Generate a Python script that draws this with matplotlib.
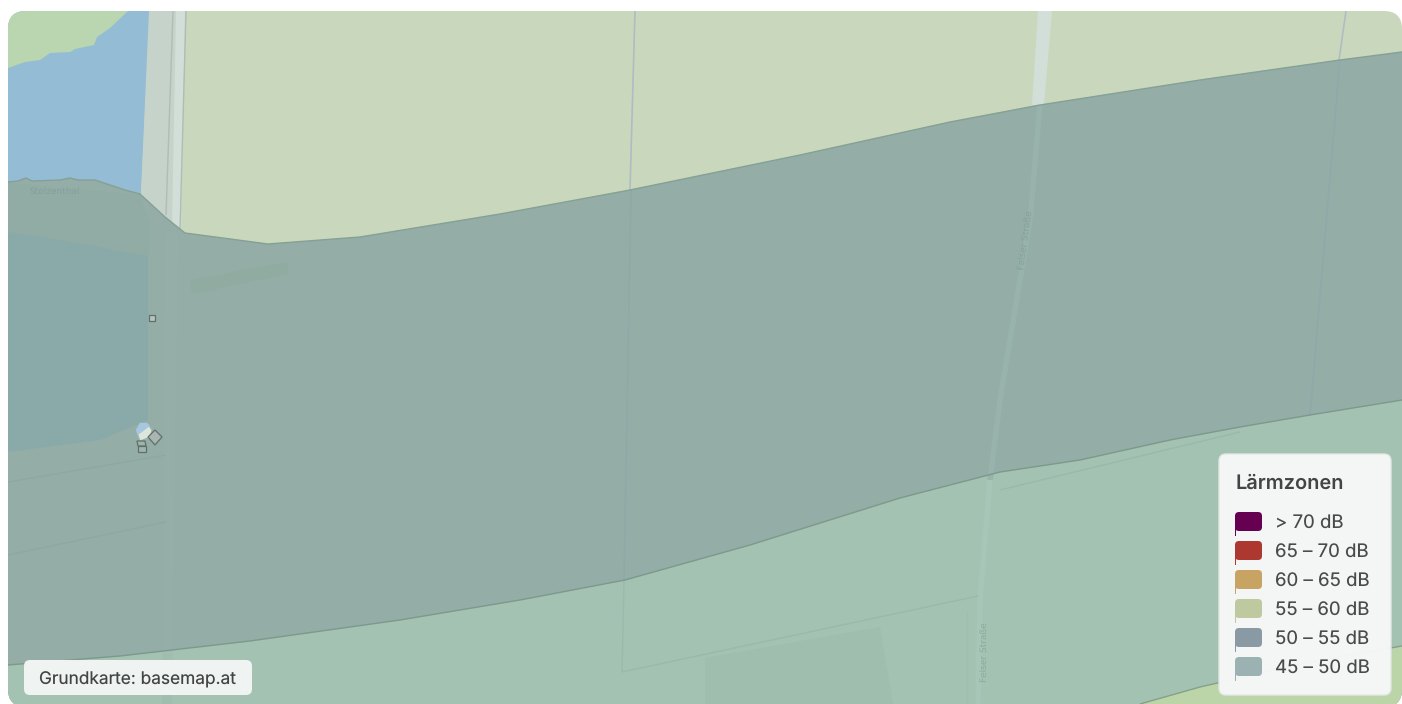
#!/usr/bin/env python
# noise zone map with legend, drawn in image pixel coordinates
import matplotlib
matplotlib.use('Agg')
import matplotlib.pyplot as plt
from matplotlib.patches import Polygon, FancyBboxPatch, Rectangle

plt.rcParams['font.family'] = ['Inter', 'DejaVu Sans']
plt.rcParams['text.hinting'] = 'none'
plt.rcParams['text.hinting_factor'] = 1

legend_title = 'Lärmzonen'
legend_labels = ['> 70 dB', '65 – 70 dB', '60 – 65 dB', '55 – 60 dB', '50 – 55 dB', '45 – 50 dB']
legend_colors = ['#660050', '#ad382f', '#c8a464', '#bfc9a0', '#8a9aa4', '#9bb1b2']
credit = 'Grundkarte: basemap.at'

# zone boundaries
band_top_x = [8, 18, 26, 32, 60, 70, 78, 95, 125, 140, 165, 185, 268, 360, 500, 630, 800, 950, 1040, 1200, 1340, 1402]
band_top_y = [182, 181, 178, 181, 180, 178, 180, 180, 190, 194, 217, 233, 244, 237, 214, 190, 155, 122, 105, 80, 60, 52]
band_bot_x = [8, 120, 250, 400, 520, 625, 750, 900, 1000, 1080, 1170, 1240, 1310, 1402]
band_bot_y = [665, 656, 641, 620, 600, 580, 545, 498, 472, 460, 440, 427, 415, 400]
south_x = [1140, 1200, 1300, 1402]
south_y = [704, 687, 664, 646]

# base map shapes
meadow_x = [8, 128, 110, 97, 94, 75, 70, 50, 40, 25, 8]
meadow_y = [11, 11, 28, 37, 45, 49, 52, 53, 60, 62, 68]
water_x = [8, 150, 141, 8]
water_y = [11, 11, 194, 182]
water_under_x = [8, 60, 148, 148, 100, 8]
water_under_y = [232, 240, 256, 420, 440, 452]
road_x = [149, 185, 181, 141]
road_y = [11, 11, 233, 194]
felser_x = [1040, 1030, 1015, 1000, 990, 980, 978]
felser_y = [105, 220, 310, 400, 480, 600, 704]

fig = plt.figure(figsize=(14.02, 7.04), dpi=100)
ax = fig.add_axes([0, 0, 1, 1])
ax.set_xlim(0, 1402)
ax.set_ylim(704, 0)
ax.axis('off')

card = FancyBboxPatch((8, 11), 1394, 696, boxstyle='round,pad=0,rounding_size=18',
                      fc='#c9d8bc', ec='none', zorder=0)
ax.add_patch(card)


def clipped(artist):
    artist.set_clip_path(card)
    return artist


def poly(x, y, color, z, **kw):
    p = Polygon(list(zip(x, y)), closed=True, fc=color, ec='none', zorder=z, **kw)
    ax.add_patch(p)
    return clipped(p)


def line(x, y, color, z, lw=1.0):
    l, = ax.plot(x, y, color=color, lw=lw, zorder=z, solid_capstyle='butt')
    return clipped(l)


# top left water, meadow, road
poly(water_x, water_y, '#94bdd5', 1)
poly(meadow_x, meadow_y, '#b9d6b0', 1.5)
poly(road_x, road_y, '#c6d3cb', 2)
poly([176, 185, 181, 172], [11, 11, 233, 225], '#d2dfd8', 2.1)
line([173, 166], [11, 215], '#aebdb5', 2.2)
line([186, 180], [11, 230], '#aebdb5', 2.2)
line([635, 630], [11, 190], '#b0bcc4', 2.2, 1.2)
poly([1038, 1052, 1044, 1032], [11, 11, 105, 105], '#d2dfd8', 2.1)
line([1346, 1339], [11, 60], '#b0bcc4', 2.2, 1.2)

# 45-50 dB zone covers everything south of the top boundary
south_fill_x = band_bot_x + [1402, 8]
south_fill_y = band_bot_y + [722, 722]
poly(band_top_x + [1402, 8], band_top_y + [722, 722], '#94ada7', 3)
poly(south_fill_x, south_fill_y, '#a3c2b2', 3.2)
poly(south_x + [1402, 1140], south_y + [722, 722], '#bcd5a8', 3.3)

# base map showing through the zones
poly([8, 140, 150, 148, 60, 8], [183, 195, 225, 256, 240, 232], '#90aca4', 3.4)
poly(water_under_x, water_under_y, '#89aaa9', 3.5)
poly([190, 287, 288, 192], [280, 262, 274, 294], '#90ab9f', 3.5)
poly([166, 178, 172, 162], [233, 233, 704, 704], '#9ab3ad', 3.5, alpha=0.25)
line([631, 624], [190, 580], '#8ea9a8', 3.6, 1.0)
line([624, 622], [580, 672], '#9bbaad', 3.6, 1.0)
line(felser_x[:5], felser_y[:5], '#98b2ac', 3.6, 4)
line(felser_x[4:], felser_y[4:], '#a8c6b7', 3.6, 4)
line([8, 166], [555, 522], '#8fa9a2', 3.6)
line([8, 166], [482, 455], '#8fa9a2', 3.6)
line([1240, 1000], [432, 490], '#9ab9aa', 3.6)
line([622, 978], [672, 596], '#9ab9aa', 3.6)
poly([705, 880, 893, 705], [658, 627, 704, 704], '#9fbead', 3.5)
line([967, 967], [612, 704], '#9fbead', 3.6)
line([1340, 1310], [60, 415], '#8ea9ab', 3.6, 1.0)
ax.text(1026, 240, 'Felser Straße', fontsize=6.5, color='#86a09c', rotation=82,
        ha='center', va='center', zorder=4, family=['DejaVu Sans'])
ax.text(984, 652, 'Felser Straße', fontsize=6.5, color='#8dab9e', rotation=90,
        ha='center', va='center', zorder=4, family=['DejaVu Sans'])
ax.text(55, 191, 'Stolzenthal', fontsize=6.5, color='#86a09c', ha='center', va='center',
        zorder=4, family=['DejaVu Sans'])

# zone outlines
line(band_top_x, band_top_y, '#85a095', 4, 1.0)
line(band_bot_x, band_bot_y, '#7c998c', 4, 1.0)
line(south_x, south_y, '#86a08b', 4, 1.0)

# small buildings
poly([149, 155, 155, 149], [315, 315, 321, 321], '#b5c5bd', 5).set(ec='#5f6f6c', lw=0.9)
poly([136, 140, 147, 152, 150, 140], [430, 423, 423, 430, 437, 441], '#dce6da', 5).set(ec='#a0b3b5', lw=0.8)
poly([136, 140, 147, 150, 138], [430, 423, 423, 426, 435], '#a6c7e0', 5.1)
poly([148, 155, 162, 155], [437, 430, 437, 445], '#a9b5b0', 5).set(ec='#5f6f6c', lw=0.9)
poly([137, 145, 146, 138], [441, 441, 446, 446], '#9fb5ac', 5).set(ec='#5f6f6c', lw=0.9)
poly([138, 146, 146, 138], [446, 446, 452, 452], '#9fb5ac', 5).set(ec='#5f6f6c', lw=0.9)

# credit box
ax.add_patch(FancyBboxPatch((24, 660), 228, 35, boxstyle='round,pad=0,rounding_size=6',
                            fc='#eff4f2', ec='none', zorder=6))
ax.text(39, 684.5, credit, fontsize=12.45, color='#444444', va='baseline', zorder=7)

# legend box
ax.add_patch(FancyBboxPatch((1219, 454), 172, 241, boxstyle='round,pad=0,rounding_size=7',
                            fc='#f6f8f7', ec='#e3e8e6', lw=1, alpha=0.97, zorder=6))
ax.text(1236, 489, legend_title, fontsize=14.4, fontweight='semibold', color='#444444',
        va='baseline', zorder=7)
for i, (lab, col) in enumerate(zip(legend_labels, legend_colors)):
    y = 512 + i * 29
    ax.add_patch(FancyBboxPatch((1235, y), 27, 19, boxstyle='round,pad=0,rounding_size=4',
                                fc=col, ec='none', zorder=7))
    ax.add_patch(Rectangle((1235, y + 4), 1, 20, fc=col, ec='none', zorder=7))
    ax.text(1275, y + 16.5, lab, fontsize=13.4, color='#4a4a4a', va='baseline', zorder=7)

fig.savefig('out.png', dpi=100, facecolor='white')
